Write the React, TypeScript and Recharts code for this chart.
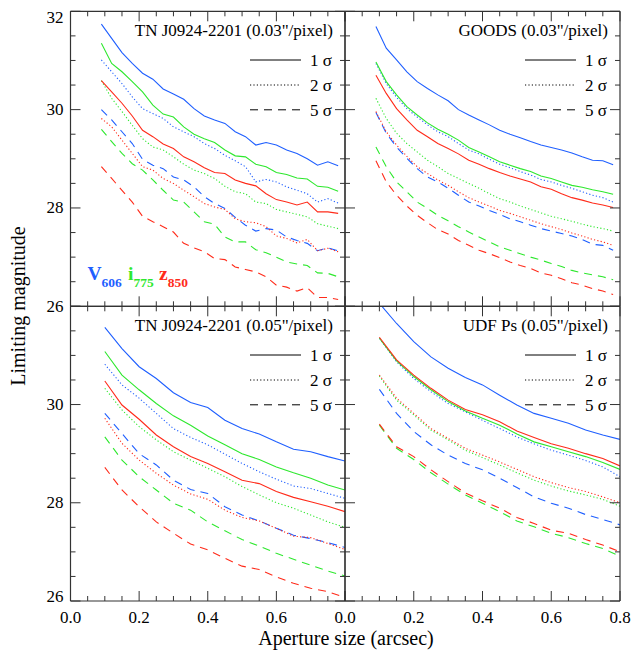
import { LineChart, Line, XAxis, YAxis } from "recharts";

const FONT = "'Liberation Serif', 'Times New Roman', serif";
const BLUE = "#1f5fff";
const GREEN = "#2ee82e";
const RED = "#ff2b1a";

// aperture sizes (arcsec)
const X_003 = [0.09, 0.12, 0.15, 0.18, 0.21, 0.24, 0.27, 0.3, 0.33, 0.36, 0.39, 0.42, 0.45, 0.48, 0.51, 0.54, 0.57, 0.6, 0.63, 0.66, 0.69, 0.72, 0.75, 0.78];
const X_005 = [0.1, 0.15, 0.2, 0.25, 0.3, 0.35, 0.4, 0.45, 0.5, 0.55, 0.6, 0.65, 0.7, 0.75, 0.8];

// TN J0924-2201 (0.03"/pixel)
const TL_V1 = [31.74, 31.45, 31.16, 30.94, 30.74, 30.62, 30.42, 30.32, 30.21, 30.02, 29.87, 29.79, 29.72, 29.55, 29.45, 29.28, 29.33, 29.28, 29.18, 29.11, 29.0, 28.87, 28.94, 28.86];
const TL_I1 = [31.35, 30.94, 30.77, 30.57, 30.36, 30.09, 29.91, 29.85, 29.65, 29.5, 29.41, 29.33, 29.18, 29.06, 29.04, 28.89, 28.84, 28.72, 28.68, 28.61, 28.59, 28.44, 28.42, 28.34];
const TL_Z1 = [30.59, 30.36, 30.13, 29.87, 29.58, 29.45, 29.3, 29.21, 29.04, 28.94, 28.82, 28.72, 28.7, 28.57, 28.5, 28.45, 28.29, 28.17, 28.12, 28.06, 28.12, 27.92, 27.92, 27.89];
const TL_V2 = [31.01, 30.77, 30.53, 30.26, 30.02, 29.92, 29.82, 29.65, 29.55, 29.45, 29.31, 29.21, 29.07, 28.96, 28.84, 28.53, 28.58, 28.53, 28.43, 28.36, 28.29, 28.12, 28.19, 28.1];
const TL_I2 = [30.59, 30.23, 29.96, 29.68, 29.41, 29.24, 29.18, 29.04, 28.89, 28.77, 28.7, 28.6, 28.44, 28.33, 28.29, 28.12, 28.09, 27.97, 27.92, 27.87, 27.82, 27.68, 27.63, 27.58];
const TL_Z2 = [29.82, 29.65, 29.38, 29.11, 28.84, 28.77, 28.6, 28.5, 28.36, 28.23, 28.09, 28.02, 27.97, 27.78, 27.72, 27.7, 27.62, 27.43, 27.38, 27.29, 27.36, 27.13, 27.18, 27.11];
const TL_V5 = [30.0, 29.79, 29.55, 29.31, 28.99, 28.87, 28.8, 28.63, 28.57, 28.43, 28.23, 28.09, 27.99, 27.81, 27.65, 27.53, 27.58, 27.55, 27.41, 27.34, 27.28, 27.13, 27.19, 27.13];
const TL_I5 = [29.6, 29.35, 29.11, 28.9, 28.77, 28.57, 28.36, 28.16, 28.12, 27.92, 27.72, 27.67, 27.41, 27.31, 27.31, 27.15, 27.09, 27.0, 26.9, 26.86, 26.83, 26.68, 26.67, 26.6];
const TL_Z5 = [28.84, 28.6, 28.36, 28.12, 27.83, 27.72, 27.62, 27.51, 27.28, 27.19, 27.11, 26.97, 26.95, 26.8, 26.75, 26.7, 26.6, 26.43, 26.39, 26.31, 26.38, 26.18, 26.18, 26.14];

// GOODS (0.03"/pixel)
const TR_V1 = [31.69, 31.25, 31.01, 30.77, 30.57, 30.43, 30.3, 30.18, 30.0, 29.89, 29.79, 29.69, 29.58, 29.5, 29.43, 29.35, 29.28, 29.23, 29.18, 29.12, 29.04, 28.97, 28.96, 28.88];
const TR_I1 = [30.97, 30.57, 30.3, 30.06, 29.89, 29.73, 29.6, 29.5, 29.38, 29.23, 29.14, 29.04, 28.94, 28.87, 28.8, 28.74, 28.65, 28.6, 28.53, 28.46, 28.42, 28.37, 28.33, 28.28];
const TR_Z1 = [30.7, 30.33, 30.02, 29.79, 29.58, 29.45, 29.31, 29.21, 29.1, 28.97, 28.89, 28.8, 28.72, 28.65, 28.59, 28.53, 28.43, 28.38, 28.29, 28.21, 28.16, 28.1, 28.06, 28.01];
const TR_V2 = [30.94, 30.53, 30.25, 30.02, 29.85, 29.69, 29.55, 29.45, 29.31, 29.18, 29.1, 28.99, 28.89, 28.82, 28.74, 28.67, 28.58, 28.53, 28.46, 28.4, 28.33, 28.26, 28.21, 28.12];
const TR_I2 = [30.23, 29.82, 29.52, 29.31, 29.14, 28.97, 28.84, 28.7, 28.6, 28.5, 28.4, 28.29, 28.19, 28.12, 28.04, 27.97, 27.9, 27.83, 27.78, 27.73, 27.67, 27.62, 27.58, 27.53];
const TR_Z2 = [29.96, 29.55, 29.28, 29.05, 28.84, 28.7, 28.57, 28.46, 28.33, 28.21, 28.12, 28.04, 27.95, 27.89, 27.82, 27.75, 27.68, 27.62, 27.56, 27.49, 27.43, 27.36, 27.31, 27.24];
const TR_V5 = [29.94, 29.52, 29.24, 29.01, 28.8, 28.63, 28.53, 28.4, 28.26, 28.12, 28.04, 27.95, 27.87, 27.78, 27.72, 27.65, 27.58, 27.53, 27.48, 27.43, 27.36, 27.26, 27.24, 27.14];
const TR_I5 = [29.24, 28.84, 28.53, 28.33, 28.12, 27.99, 27.85, 27.74, 27.62, 27.51, 27.41, 27.31, 27.21, 27.14, 27.07, 27.0, 26.94, 26.87, 26.81, 26.73, 26.68, 26.64, 26.6, 26.54];
const TR_Z5 = [28.96, 28.53, 28.26, 28.04, 27.85, 27.7, 27.56, 27.47, 27.34, 27.24, 27.14, 27.07, 26.99, 26.9, 26.83, 26.77, 26.68, 26.63, 26.56, 26.48, 26.43, 26.36, 26.31, 26.24];

// TN J0924-2201 (0.05"/pixel)
const BL_V1 = [31.57, 31.14, 30.77, 30.53, 30.24, 30.04, 29.94, 29.68, 29.51, 29.4, 29.24, 29.09, 29.04, 28.94, 28.85];
const BL_I1 = [31.08, 30.6, 30.3, 30.02, 29.77, 29.58, 29.36, 29.18, 29.0, 28.88, 28.73, 28.61, 28.5, 28.36, 28.26];
const BL_Z1 = [30.48, 29.99, 29.7, 29.38, 29.14, 28.94, 28.8, 28.63, 28.46, 28.39, 28.23, 28.11, 28.02, 27.93, 27.82];
const BL_V2 = [30.82, 30.4, 30.13, 29.82, 29.51, 29.33, 29.18, 28.99, 28.8, 28.63, 28.48, 28.34, 28.29, 28.19, 28.09];
const BL_I2 = [30.33, 29.89, 29.55, 29.28, 29.04, 28.87, 28.7, 28.53, 28.33, 28.16, 28.0, 27.89, 27.75, 27.61, 27.5];
const BL_Z2 = [29.72, 29.21, 28.87, 28.6, 28.36, 28.18, 28.07, 27.85, 27.7, 27.63, 27.48, 27.32, 27.29, 27.17, 27.05];
const BL_V5 = [29.82, 29.41, 29.0, 28.77, 28.46, 28.27, 28.19, 27.92, 27.75, 27.63, 27.48, 27.34, 27.27, 27.19, 27.09];
const BL_I5 = [29.34, 28.87, 28.53, 28.26, 27.99, 27.85, 27.61, 27.43, 27.25, 27.12, 26.97, 26.85, 26.73, 26.61, 26.51];
const BL_Z5 = [28.72, 28.26, 27.92, 27.61, 27.38, 27.16, 27.04, 26.87, 26.71, 26.64, 26.49, 26.36, 26.26, 26.19, 26.07];

// UDF Ps (0.05"/pixel)
const BR_V1 = [32.06, 31.65, 31.28, 30.97, 30.74, 30.55, 30.4, 30.19, 29.99, 29.82, 29.72, 29.62, 29.48, 29.38, 29.29];
const BR_I1 = [31.35, 30.89, 30.57, 30.3, 30.06, 29.87, 29.72, 29.58, 29.4, 29.24, 29.14, 29.04, 28.94, 28.82, 28.68];
const BR_Z1 = [31.37, 30.91, 30.6, 30.33, 30.09, 29.9, 29.79, 29.65, 29.46, 29.33, 29.2, 29.11, 29.0, 28.9, 28.75];
const BR_V2 = [31.35, 30.87, 30.53, 30.26, 30.02, 29.85, 29.68, 29.51, 29.34, 29.2, 29.07, 28.97, 28.86, 28.73, 28.53];
const BR_I2 = [30.58, 30.09, 29.79, 29.48, 29.28, 29.07, 28.92, 28.77, 28.61, 28.46, 28.34, 28.24, 28.16, 28.07, 27.93];
const BR_Z2 = [30.6, 30.13, 29.82, 29.51, 29.31, 29.11, 28.97, 28.83, 28.68, 28.53, 28.41, 28.31, 28.23, 28.12, 28.0];
const BR_V5 = [30.31, 29.82, 29.45, 29.18, 28.97, 28.8, 28.67, 28.5, 28.31, 28.12, 27.99, 27.89, 27.76, 27.66, 27.55];
const BR_I5 = [29.58, 29.11, 28.88, 28.61, 28.38, 28.16, 27.99, 27.82, 27.63, 27.51, 27.38, 27.29, 27.17, 27.07, 26.91];
const BR_Z5 = [29.6, 29.14, 28.94, 28.67, 28.43, 28.2, 28.04, 27.89, 27.7, 27.58, 27.44, 27.38, 27.25, 27.14, 27.0];

const X_TICKS = [0, 0.05, 0.1, 0.15, 0.2, 0.25, 0.3, 0.35, 0.4, 0.45, 0.5, 0.55, 0.6, 0.65, 0.7, 0.75, 0.8];
const X_MAJOR = [0, 0.2, 0.4, 0.6, 0.8];
const Y_TICKS = [26, 26.5, 27, 27.5, 28, 28.5, 29, 29.5, 30, 30.5, 31, 31.5, 32];
const Y_MAJOR = [26, 28, 30, 32];

const DASHED = "8 6";
const DOTTED = "1.2 2.2";

const LINES = [
  { key: "v5", color: BLUE, dash: DASHED },
  { key: "i5", color: GREEN, dash: DASHED },
  { key: "z5", color: RED, dash: DASHED },
  { key: "v2", color: BLUE, dash: DOTTED },
  { key: "i2", color: GREEN, dash: DOTTED },
  { key: "z2", color: RED, dash: DOTTED },
  { key: "v1", color: BLUE, dash: undefined },
  { key: "i1", color: GREEN, dash: undefined },
  { key: "z1", color: RED, dash: undefined },
];

const W = 634;
const H = 656;
const PL = 70.5, PM = 345, PR = 620;
const PT = 11.3, PMY = 306.3, PB = 601;

// axis band sizes (taken out of the margins so the plot box stays fixed)
const BOT_H = 30, TOP_H = 10, LEFT_W = 40, RIGHT_W = 10;

const build = (xs: number[], v1: number[], v2: number[], v5: number[], i1: number[], i2: number[], i5: number[], z1: number[], z2: number[], z5: number[]) =>
  xs.map((x, k) => ({ x, v1: v1[k], v2: v2[k], v5: v5[k], i1: i1[k], i2: i2[k], i5: i5[k], z1: z1[k], z2: z2[k], z5: z5[k] }));

const has = (arr: number[] | undefined, v: number) => !!arr && arr.some((a) => Math.abs(a - v) < 1e-6);

const TICK = "#333";
const frame = { stroke: "#333", strokeWidth: 1.2 };

const Panel = ({ data, left, right, top, bottom, xLabels, yLabels, lowPanel }: any) => {
  const BottomTick = ({ x, y, payload }: any) => {
    const len = has(X_MAJOR, payload.value) ? 10 : 5;
    return (
      <g>
        <line x1={x} x2={x} y1={y} y2={y - len} stroke={TICK} strokeWidth={1} />
        {has(xLabels, payload.value) && (
          <text x={x} y={y + 22} textAnchor="middle" fontSize={17} fontFamily={FONT} fill="#000">
            {payload.value.toFixed(1)}
          </text>
        )}
      </g>
    );
  };
  const TopTick = ({ x, y, payload }: any) => {
    const len = has(X_MAJOR, payload.value) ? 10 : 5;
    return <line x1={x} x2={x} y1={y} y2={y + len} stroke={TICK} strokeWidth={1} />;
  };
  const LeftTick = ({ x, y, payload }: any) => {
    const len = has(Y_MAJOR, payload.value) ? 10 : 5;
    let dy = 0;
    if (payload.value === 32) dy = 6;
    if (payload.value === 26 && lowPanel) dy = -5;
    return (
      <g>
        <line x1={x} x2={x + len} y1={y} y2={y} stroke={TICK} strokeWidth={1} />
        {has(yLabels, payload.value) && (
          <text x={x - 7} y={y + dy} textAnchor="end" dominantBaseline="central" fontSize={17} fontFamily={FONT} fill="#000">
            {payload.value}
          </text>
        )}
      </g>
    );
  };
  const RightTick = ({ x, y, payload }: any) => {
    const len = has(Y_MAJOR, payload.value) ? 10 : 5;
    return <line x1={x} x2={x - len} y1={y} y2={y} stroke={TICK} strokeWidth={1} />;
  };
  const margin = {
    left: left - LEFT_W,
    right: W - right - RIGHT_W,
    top: top - TOP_H,
    bottom: H - bottom - BOT_H,
  };
  const xCommon = { dataKey: "x", type: "number" as const, domain: [0, 0.8], allowDataOverflow: true, ticks: X_TICKS, interval: 0 as const, tickSize: 0, tickMargin: 0, tickLine: false, axisLine: frame };
  const yCommon = { type: "number" as const, domain: [26, 32], allowDataOverflow: true, ticks: Y_TICKS, interval: 0 as const, tickSize: 0, tickMargin: 0, tickLine: false, axisLine: frame };
  return (
    <div style={{ position: "absolute", left: 0, top: 0 }}>
      <LineChart width={W} height={H} data={data} margin={margin}>
        <XAxis xAxisId="b" orientation="bottom" height={BOT_H} {...xCommon} tick={BottomTick} />
        <XAxis xAxisId="t" orientation="top" height={TOP_H} {...xCommon} tick={TopTick} />
        <YAxis yAxisId="l" orientation="left" width={LEFT_W} {...yCommon} tick={LeftTick} />
        <YAxis yAxisId="r" orientation="right" width={RIGHT_W} {...yCommon} tick={RightTick} />
        {LINES.map((s) => (
          <Line
            key={s.key}
            xAxisId="b"
            yAxisId="l"
            type="linear"
            dataKey={s.key}
            stroke={s.color}
            strokeWidth={1.1}
            strokeDasharray={s.dash}
            dot={false}
            activeDot={false}
            isAnimationActive={false}
          />
        ))}
      </LineChart>
    </div>
  );
};

const PanelText = ({ title, right, top }: { title: string; right: number; top: number }) => (
  <g fontFamily={FONT} fontSize={17} fill="#000">
    <text x={right - 12} y={top + 24.5} textAnchor="end">{title}</text>
    <line x1={right - 95} x2={right - 44} y1={top + 48.7} y2={top + 48.7} stroke="#000" strokeWidth={1} />
    <line x1={right - 95} x2={right - 44} y1={top + 73.7} y2={top + 73.7} stroke="#000" strokeWidth={1} strokeDasharray={DOTTED} />
    <line x1={right - 95} x2={right - 44} y1={top + 98.5} y2={top + 98.5} stroke="#000" strokeWidth={1} strokeDasharray={DASHED} />
    <text x={right - 35} y={top + 54.5}>1 σ</text>
    <text x={right - 35} y={top + 79.5}>2 σ</text>
    <text x={right - 35} y={top + 104.3}>5 σ</text>
  </g>
);

export default function App() {
  const tl = build(X_003, TL_V1, TL_V2, TL_V5, TL_I1, TL_I2, TL_I5, TL_Z1, TL_Z2, TL_Z5);
  const tr = build(X_003, TR_V1, TR_V2, TR_V5, TR_I1, TR_I2, TR_I5, TR_Z1, TR_Z2, TR_Z5);
  const bl = build(X_005, BL_V1, BL_V2, BL_V5, BL_I1, BL_I2, BL_I5, BL_Z1, BL_Z2, BL_Z5);
  const br = build(X_005, BR_V1, BR_V2, BR_V5, BR_I1, BR_I2, BR_I5, BR_Z1, BR_Z2, BR_Z5);
  return (
    <div style={{ position: "absolute", left: 0, top: 0, width: W, height: H, background: "#fff" }}>
      <Panel data={tl} left={PL} right={PM} top={PT} bottom={PMY} yLabels={[26, 28, 30, 32]} />
      <Panel data={tr} left={PM} right={PR} top={PT} bottom={PMY} />
      <Panel data={bl} left={PL} right={PM} top={PMY} bottom={PB} xLabels={[0, 0.2, 0.4, 0.6]} yLabels={[26, 28, 30]} lowPanel />
      <Panel data={br} left={PM} right={PR} top={PMY} bottom={PB} xLabels={[0, 0.2, 0.4, 0.6, 0.8]} lowPanel />
      <svg width={W} height={H} style={{ position: "absolute", left: 0, top: 0, pointerEvents: "none" }}>
        <PanelText title={'TN J0924-2201 (0.03"/pixel)'} right={PM} top={PT} />
        <PanelText title={'GOODS (0.03"/pixel)'} right={PR} top={PT} />
        <PanelText title={'TN J0924-2201 (0.05"/pixel)'} right={PM} top={PMY} />
        <PanelText title={'UDF Ps (0.05"/pixel)'} right={PR} top={PMY} />
        <text fontFamily={FONT} fontWeight="bold" fontSize={19.5}>
          <tspan x={87.5} y={279.5} fill={BLUE}>V</tspan>
          <tspan fontSize={13.5} dy={7} fill={BLUE}>606</tspan>
          <tspan x={128} y={279.5} fill={GREEN}>i</tspan>
          <tspan fontSize={13.5} dy={7} fill={GREEN}>775</tspan>
          <tspan x={159} y={279.5} fill={RED}>z</tspan>
          <tspan fontSize={13.5} dy={7} fill={RED}>850</tspan>
        </text>
        <text x={346} y={645} textAnchor="middle" fontFamily={FONT} fontSize={20} fill="#000">
          Aperture size (arcsec)
        </text>
        <text x={25} y={306} textAnchor="middle" fontFamily={FONT} fontSize={20} fill="#000" transform="rotate(-90 25 306)">
          Limiting magnitude
        </text>
      </svg>
    </div>
  );
}
